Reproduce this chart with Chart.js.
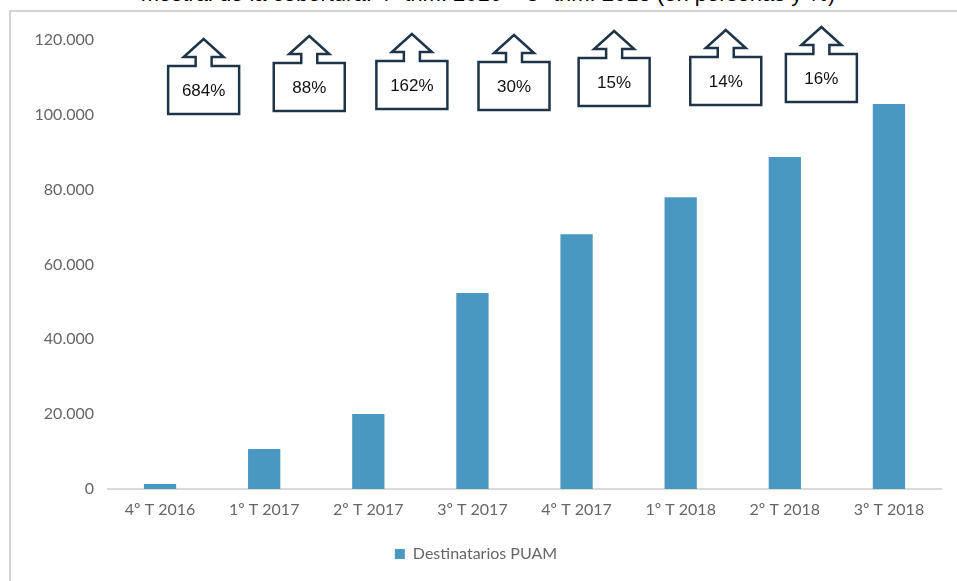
<!DOCTYPE html>
<html>
<head>
<meta charset="utf-8">
<script src="https://cdn.jsdelivr.net/npm/chart.js@4"></script>
<style>
  html, body { margin: 0; padding: 0; background: #fff; overflow: hidden; width: 957px; height: 581px; }
  #title {
    position: absolute; left: 0; top: -17px; width: 976px; text-align: center;
    font: 22px "Liberation Sans", Arial, sans-serif; line-height: 22px; color: #000; white-space: nowrap;
  }
  #frame {
    position: absolute; left: 9px; top: 10px; width: 1000px; height: 600px;
    border-left: 2px solid #d4d4d4; border-top: 2px solid #d4d4d4;
  }
  #wrap { position: absolute; left: 0; top: 0; width: 970px; height: 570px; }
</style>
</head>
<body>
<div id="title">mestral de la cobertura: 4º trim. 2016 – 3º trim. 2018 (en personas y %)</div>
<div id="frame"><div id="wrap"><canvas id="chart"></canvas></div></div>
<script>
// Destinatarios PUAM por trimestre
const categories = ['4º T 2016', '1º T 2017', '2º T 2017', '3º T 2017', '4º T 2017', '1º T 2018', '2º T 2018', '3º T 2018'];
const destinatarios = [1365, 10700, 20050, 52400, 68100, 78000, 88700, 102900];
const variaciones = ['684%', '88%', '162%', '30%', '15%', '14%', '16%'];
const yTicks = [0, 20000, 40000, 60000, 80000, 100000, 120000];

// callout placement (px, relative to midpoint between bars / canvas top)
const calloutDx = [-8.5, -7, -8.5, -10.5, -14.5, -7, -15.5];
const calloutTop = [54, 51, 49, 50, 46, 45, 42];

const calloutPlugin = {
  id: 'callouts',
  afterDatasetsDraw(chart) {
    const ctx = chart.ctx;
    const x = chart.scales.x;
    const w = 71, h = 48;
    ctx.save();
    ctx.lineWidth = 2.5;
    ctx.lineJoin = 'miter';
    ctx.strokeStyle = '#1d3547';
    variaciones.forEach((txt, i) => {
      const cx = (x.getPixelForValue(i) + x.getPixelForValue(i + 1)) / 2 + calloutDx[i];
      const top = calloutTop[i];
      const l = cx - w / 2, r = cx + w / 2;
      ctx.beginPath();
      ctx.moveTo(l, top);
      ctx.lineTo(cx - 8, top);
      ctx.lineTo(cx - 8, top - 9);
      ctx.lineTo(cx - 20, top - 9);
      ctx.lineTo(cx, top - 27);
      ctx.lineTo(cx + 20, top - 9);
      ctx.lineTo(cx + 8, top - 9);
      ctx.lineTo(cx + 8, top);
      ctx.lineTo(r, top);
      ctx.lineTo(r, top + h);
      ctx.lineTo(l, top + h);
      ctx.closePath();
      ctx.fillStyle = '#fff';
      ctx.fill();
      ctx.stroke();
      ctx.fillStyle = '#111';
      ctx.font = '17px "Liberation Sans", Arial, sans-serif';
      ctx.textAlign = 'center';
      ctx.textBaseline = 'middle';
      ctx.fillText(txt, cx, top + h / 2 + 1);
    });
    ctx.restore();
  }
};

Chart.defaults.font.family = 'Lato, "Open Sans", sans-serif';
Chart.defaults.color = '#666';

new Chart(document.getElementById('chart'), {
  type: 'bar',
  data: {
    labels: categories,
    datasets: [{
      label: 'Destinatarios PUAM',
      data: destinatarios,
      backgroundColor: '#4a98c1',
      borderWidth: 0,
      categoryPercentage: 1,
      barPercentage: 0.31
    }]
  },
  options: {
    responsive: true,
    maintainAspectRatio: false,
    animation: false,
    layout: { padding: { top: 28, right: 40, bottom: 10, left: 0 } },
    plugins: {
      legend: {
        position: 'bottom',
        labels: { boxWidth: 10, boxHeight: 10, padding: 10, font: { size: 16 }, color: '#666' }
      },
      tooltip: { enabled: false }
    },
    scales: {
      x: {
        grid: { display: false, drawTicks: false },
        border: { color: '#d9d9d9', width: 2 },
        ticks: { padding: 11, font: { size: 16 }, color: '#666' },
        afterFit: (s) => { s.height = 47; }
      },
      y: {
        min: 0,
        max: 120000,
        grid: { display: false, drawTicks: false },
        border: { display: false },
        afterFit: (s) => { s.width = 97; },
        afterBuildTicks: (s) => { s.ticks = yTicks.map(v => ({ value: v })); },
        ticks: {
          padding: 14,
          font: { size: 16 },
          color: '#666',
          callback: (v) => v === 0 ? '0' : v.toLocaleString('de-DE')
        }
      }
    }
  },
  plugins: [calloutPlugin]
});
</script>
</body>
</html>
